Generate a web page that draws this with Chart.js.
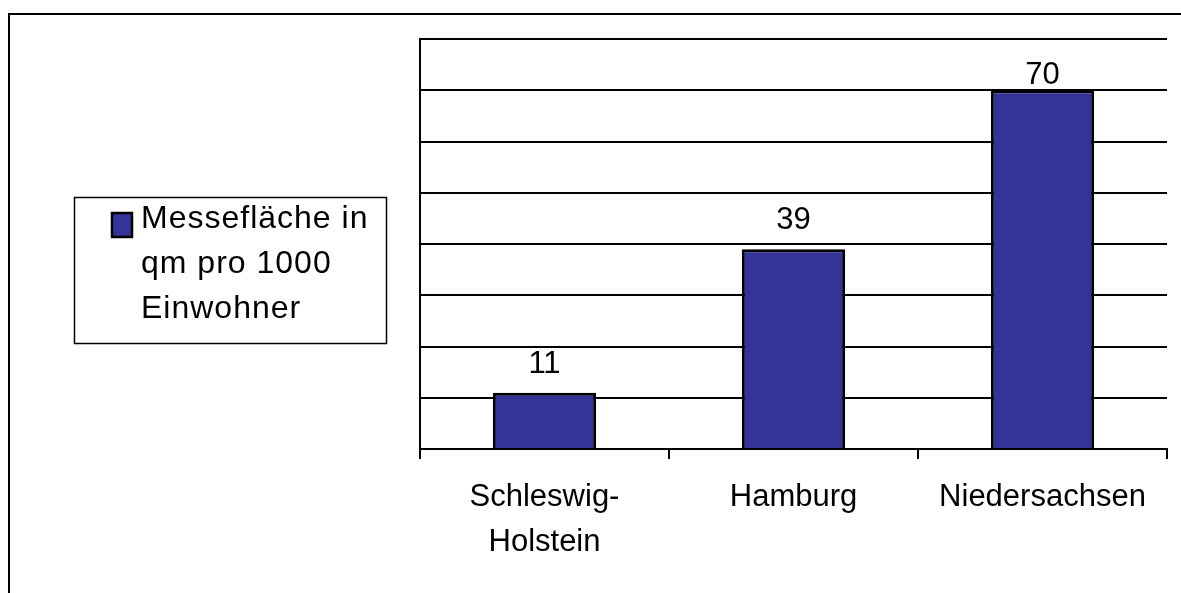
<!DOCTYPE html>
<html>
<head>
<meta charset="utf-8">
<script src="https://cdn.jsdelivr.net/npm/chart.js@4"></script>
<style>
  html, body { margin: 0; padding: 0; background: #fff; }
  #grafico { display: block; }
</style>
</head>
<body>
<canvas id="grafico" width="1181" height="593"></canvas>
<script>

// dati del grafico
var categorie = [["Schleswig-", "Holstein"], "Hamburg", "Niedersachsen"];
var valori = [11, 39, 70];
var nomeSerie = "Messefläche in qm pro 1000 Einwohner";
var righeLegenda = ["Messefläche in", "qm pro 1000", "Einwohner"];
var asseMin = 0;
var asseMax = 80;
var asseStep = 10;

var coloreBarre = "#333399";
var font = "'Liberation Sans', Arial, sans-serif";


//cornice esterna (solo lato sopra e sinistro)
var cornice = {
  id: "cornice",
  afterDraw: function(chart) {
    var ctx = chart.ctx;
    ctx.save();
    ctx.strokeStyle = "#000";
    ctx.lineWidth = 2;
    ctx.beginPath();
    ctx.moveTo(9, 593);
    ctx.lineTo(9, 14);
    ctx.lineTo(1181, 14);
    ctx.stroke();
    ctx.restore();
  }
};

//valori sopra le barre
var etichette = {
  id: "etichette",
  afterDatasetsDraw: function(chart) {
    var ctx = chart.ctx;
    var meta = chart.getDatasetMeta(0);
    ctx.save();
    ctx.fillStyle = "#000";
    ctx.font = "31px " + font;
    ctx.textAlign = "center";
    ctx.textBaseline = "alphabetic";
    for (var i = 0; i < meta.data.length; i++) {
      var bar = meta.data[i];
      var alto = Math.max(bar.y - 20, 84);
      ctx.fillText(String(chart.data.datasets[0].data[i]), bar.x, alto);
    }
    ctx.restore();
  }
};

//legenda a sinistra con testo su piu' righe
var legenda = {
  id: "legenda",
  afterDraw: function(chart) {
    var ctx = chart.ctx;
    ctx.save();
    ctx.strokeStyle = "#000";
    ctx.lineWidth = 1.5;
    ctx.strokeRect(74.5, 197.5, 312, 146);

    ctx.fillStyle = chart.data.datasets[0].backgroundColor;
    ctx.fillRect(112, 213, 20, 24);
    ctx.lineWidth = 2.5;
    ctx.strokeRect(112, 213, 20, 24);

    ctx.fillStyle = "#000";
    ctx.font = "32px " + font;
    ctx.letterSpacing = "1px";
    ctx.textAlign = "left";
    ctx.textBaseline = "alphabetic";
    for (var i = 0; i < righeLegenda.length; i++) {
      ctx.fillText(righeLegenda[i], 141, 228 + i * 45);
    }
    ctx.restore();
  }
};

function init() {

  var ctx = document.getElementById("grafico").getContext("2d");

  var myChart = new Chart(ctx, {
    type: "bar",
    data: {
      labels: categorie,
      datasets: [{
        label: nomeSerie,
        data: valori,
        backgroundColor: coloreBarre,
        borderColor: "#000",
        borderWidth: 3,
        categoryPercentage: 1,
        barPercentage: 0.415
      }]
    },
    options: {
      responsive: false,
      animation: false,
      layout: {
        padding: { left: 420, top: 39, right: 14, bottom: 0 }
      },
      plugins: {
        legend: { display: false },
        tooltip: { enabled: false }
      },
      scales: {
        x: {
          grid: {
            offset: true,
            drawOnChartArea: true,
            color: function(c) {
              return c.index === categorie.length ? "#000" : "rgba(0,0,0,0)";
            },
            tickColor: "#000",
            tickLength: 10,
            lineWidth: 2
          },
          border: { display: true, color: "#000", width: 2 },
          ticks: {
            color: "#000",
            padding: 16,
            maxRotation: 0,
            autoSkip: false,
            font: { family: font, size: 31, lineHeight: 1.45 }
          },
          afterFit: function(scale) {
            scale.height = 144;
          }
        },
        y: {
          min: asseMin,
          max: asseMax,
          ticks: { stepSize: asseStep, display: false },
          grid: {
            color: "#000",
            lineWidth: 2,
            drawTicks: false
          },
          border: { display: true, color: "#000", width: 2 },
          afterFit: function(scale) {
            scale.width = 0;
          }
        }
      }
    },
    plugins: [cornice, etichette, legenda]
  });

}

init();

</script>
</body>
</html>
